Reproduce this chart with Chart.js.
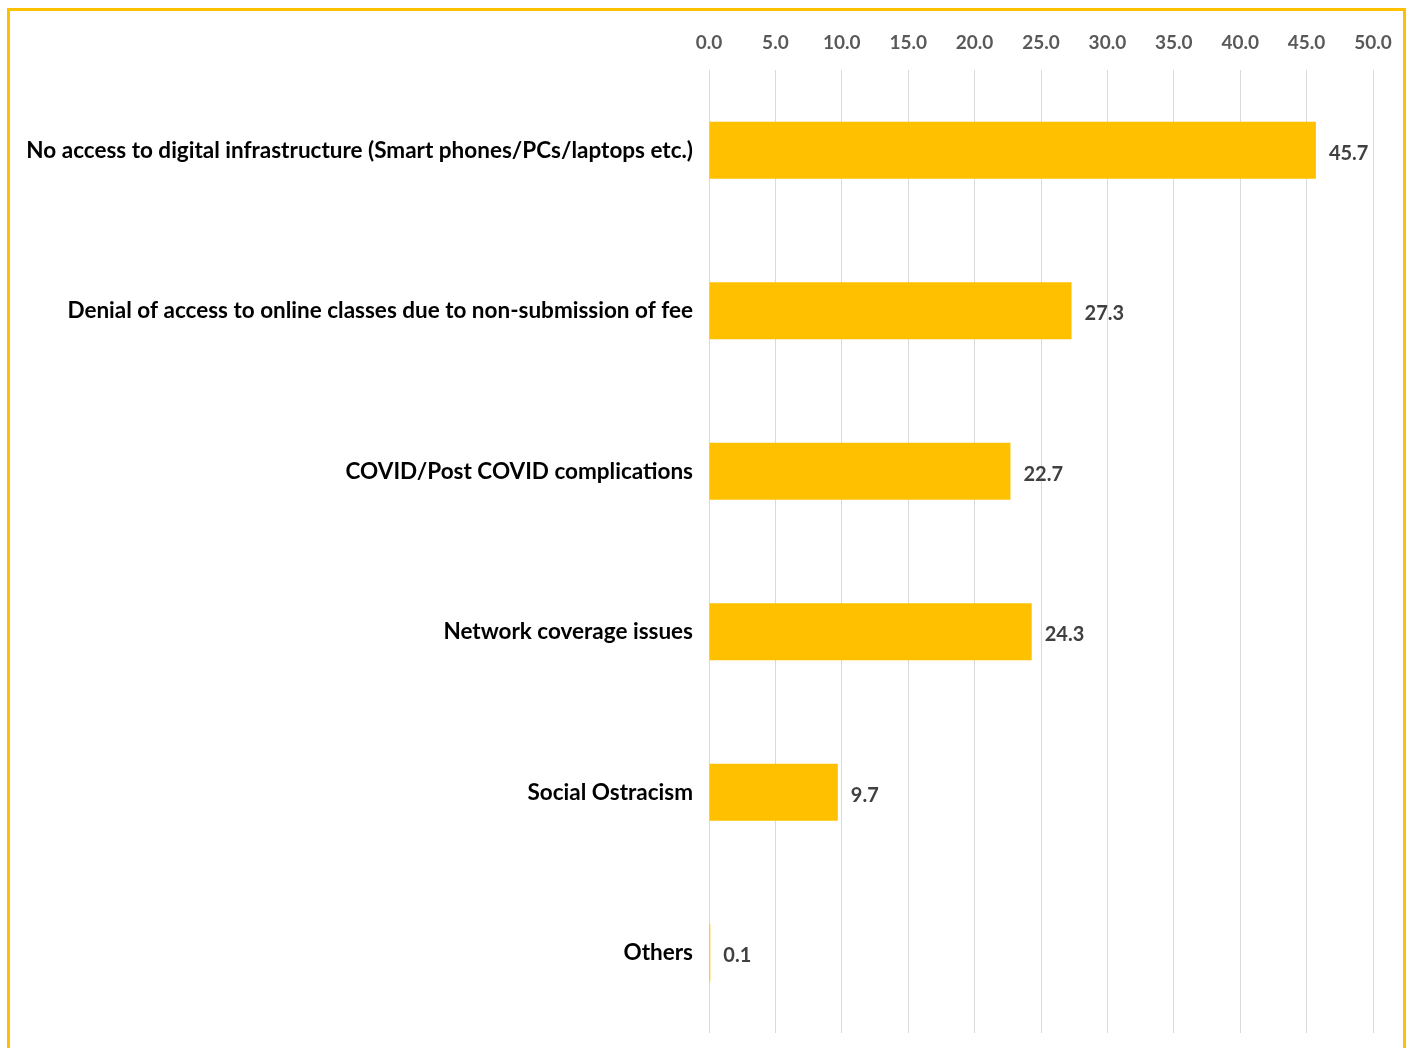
<!DOCTYPE html>
<html>
<head>
<meta charset="utf-8">
<script src="https://cdn.jsdelivr.net/npm/chart.js@4.4.1/dist/chart.umd.min.js"></script>
<style>
    html, body { margin: 0; padding: 0; background: #fff; overflow: hidden; }
    #wrap { position: relative; width: 1408px; height: 1048px; }
    #frame {
        position: absolute; left: 7px; top: 8px; width: 1393px; height: 1080px;
        border: 3px solid #FFC000; pointer-events: none;
    }
    canvas { position: absolute; left: 0; top: 0; }
</style>
</head>
<body>
<div id="wrap">
    <canvas id="chart" width="1408" height="1048"></canvas>
    <div id="frame"></div>
</div>
<script>
const categories = [
    'No access to digital infrastructure (Smart phones/PCs/laptops etc.)',
    'Denial of access to online classes due to non-submission of fee',
    'COVID/Post COVID complications',
    'Network coverage issues',
    'Social Ostracism',
    'Others'
];
const shares = [45.7, 27.3, 22.7, 24.3, 9.7, 0.1];
const axisTicks = [0, 5, 10, 15, 20, 25, 30, 35, 40, 45, 50];

// value text just past the end of each bar
const barValues = {
    id: 'barValues',
    afterDatasetsDraw(chart) {
        const ctx = chart.ctx;
        const meta = chart.getDatasetMeta(0);
        ctx.save();
        ctx.font = 'bold 20px Lato';
        ctx.fillStyle = '#404040';
        ctx.textAlign = 'left';
        ctx.textBaseline = 'middle';
        meta.data.forEach((bar, i) => {
            ctx.fillText(shares[i].toFixed(1), bar.x + 13, bar.y + 3);
        });
        ctx.restore();
    }
};

new Chart(document.getElementById('chart'), {
    type: 'bar',
    data: {
        labels: categories,
        datasets: [{
            data: shares,
            backgroundColor: '#FFC000',
            borderWidth: 0,
            categoryPercentage: 1,
            barPercentage: 0.355
        }]
    },
    options: {
        indexAxis: 'y',
        responsive: false,
        animation: false,
        layout: { padding: { left: 0, right: 35, top: 0, bottom: 15 } },
        plugins: {
            legend: { display: false },
            tooltip: { enabled: false }
        },
        scales: {
            x: {
                position: 'top',
                min: axisTicks[0],
                max: axisTicks[axisTicks.length - 1],
                afterBuildTicks: (scale) => {
                    scale.ticks = axisTicks.map(v => ({ value: v }));
                },
                afterFit: (scale) => {
                    scale.height = 70;
                    scale.paddingLeft = 0;
                    scale.paddingRight = 0;
                },
                grid: { color: '#d9d9d9', lineWidth: 1, drawTicks: false },
                border: { display: false },
                ticks: {
                    padding: 16,
                    color: '#595959',
                    font: { family: 'Lato', size: 19, weight: 'bold' },
                    callback: (v) => Number(v).toFixed(1)
                }
            },
            y: {
                afterFit: (scale) => {
                    scale.width = 709;
                    scale.paddingTop = 0;
                    scale.paddingBottom = 0;
                },
                grid: { display: false, drawTicks: false },
                border: { display: false },
                ticks: {
                    padding: 16,
                    color: '#000',
                    font: { family: 'Lato', size: 22.5, weight: 'bold' }
                }
            }
        }
    },
    plugins: [barValues]
});
</script>
</body>
</html>
